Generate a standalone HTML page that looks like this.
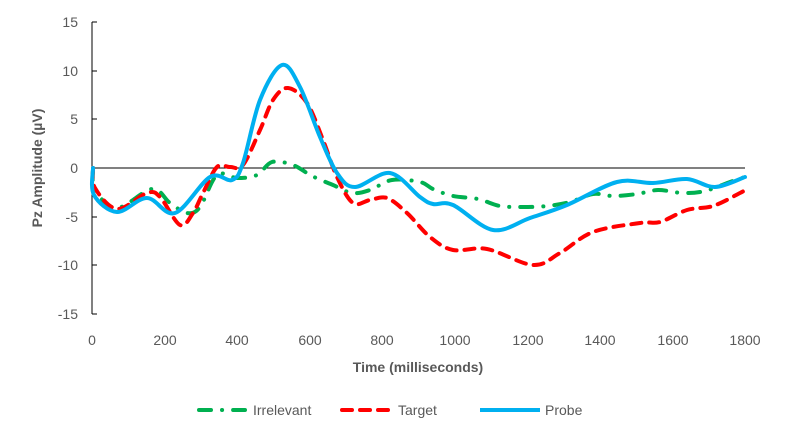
<!DOCTYPE html>
<html><head><meta charset="utf-8"><style>
body{margin:0;background:#fff;width:786px;height:442px;overflow:hidden}
text{font-family:"Liberation Sans",sans-serif}
</style></head><body>
<svg id="s" width="786" height="442" viewBox="0 0 786 442" xmlns="http://www.w3.org/2000/svg">
<g fill="#595959" font-size="14" text-anchor="end">
<text x="78" y="27">15</text><text x="78" y="76">10</text><text x="78" y="124">5</text>
<text x="78" y="173">0</text><text x="78" y="222">-5</text><text x="78" y="270">-10</text><text x="78" y="319">-15</text>
</g>
<g fill="#595959" font-size="14" text-anchor="middle">
<text x="92" y="345">0</text><text x="165" y="345">200</text><text x="237" y="345">400</text>
<text x="310" y="345">600</text><text x="382" y="345">800</text><text x="455" y="345">1000</text>
<text x="528" y="345">1200</text><text x="600" y="345">1400</text><text x="673" y="345">1600</text><text x="745" y="345">1800</text>
</g>
<text x="418" y="372" font-size="14" font-weight="bold" fill="#595959" text-anchor="middle">Time (milliseconds)</text>
<text transform="translate(42,168) rotate(-90)" font-size="14" font-weight="bold" fill="#595959" text-anchor="middle">Pz Amplitude (µV)</text>
<g stroke="#000" stroke-width="1">
<line x1="92" y1="22" x2="92" y2="314"/>
<line x1="92" y1="168" x2="745" y2="168"/>
<line x1="92" y1="22" x2="97" y2="22"/><line x1="92" y1="71" x2="97" y2="71"/><line x1="92" y1="119" x2="97" y2="119"/>
<line x1="92" y1="217" x2="97" y2="217"/><line x1="92" y1="265" x2="97" y2="265"/><line x1="92" y1="314" x2="97" y2="314"/>
</g>
<g id="series" fill="none" stroke-linecap="round" stroke-linejoin="round"></g>
<g font-size="14" fill="#595959">
<line x1="199" y1="410" x2="245" y2="410" stroke="#00b050" stroke-width="4" stroke-dasharray="12 11 0.1 11" stroke-linecap="round"/>
<text x="253" y="415">Irrelevant</text>
<line x1="342" y1="410" x2="390" y2="410" stroke="#ff0000" stroke-width="4" stroke-dasharray="10 8" stroke-linecap="round"/>
<text x="398" y="415">Target</text>
<line x1="480" y1="410" x2="540" y2="410" stroke="#00b0f0" stroke-width="4"/>
<text x="545" y="415">Probe</text>
</g>
</svg>
<script>
function path(p){let d="M"+p[0][0]+","+p[0][1];for(let i=0;i<p.length-1;i++){const a=p[Math.max(0,i-1)],b=p[i],c=p[i+1],e=p[Math.min(p.length-1,i+2)];
d+=" C"+(b[0]+(c[0]-a[0])/6)+","+(b[1]+(c[1]-a[1])/6)+" "+(c[0]-(e[0]-b[0])/6)+","+(c[1]-(e[1]-b[1])/6)+" "+c[0]+","+c[1];}return d;}
const green=[[93,168],[95,190],[117,208],[152,189],[170,203],[187,213],[200,207],[217,175],[237,178],[257,175],[272,162],[293,165],[312,176],[333,185],[352,193],[370,190],[392,180],[420,182],[433,189],[453,196],[478,199],[500,206],[523,207],[547,206],[570,202],[593,194],[613,196],[637,194],[658,190],[683,193],[705,191],[730,182],[745,177]];
const red=[[93,168],[95,188],[117,209],[147,193],[160,197],[180,225],[193,213],[203,193],[217,167],[230,167],[243,165],[260,130],[273,100],[288,88],[307,103],[323,140],[337,177],[353,203],[370,200],[387,198],[407,213],[430,237],[453,250],[487,249],[533,265],[560,253],[593,232],[640,223],[660,222],[687,210],[713,206],[740,193],[745,190]];
const blue=[[93,168],[94,195],[117,212],[147,198],[175,213],[210,177],[232,180],[243,163],[260,100],[282,65],[300,87],[320,137],[337,173],[355,187],[390,173],[420,197],[433,204],[453,205],[493,230],[530,218],[567,205],[617,182],[653,183],[687,179],[715,187],[745,177]];
const g=document.getElementById("series");
function add(p,col,da){const e=document.createElementNS("http://www.w3.org/2000/svg","path");e.setAttribute("d",path(p));e.setAttribute("stroke",col);e.setAttribute("stroke-width","4");if(da)e.setAttribute("stroke-dasharray",da);g.appendChild(e);}
add(green,"#00b050","12 11 0.1 11");add(red,"#ff0000","10 8");add(blue,"#00b0f0",null);
</script>
</body></html>
